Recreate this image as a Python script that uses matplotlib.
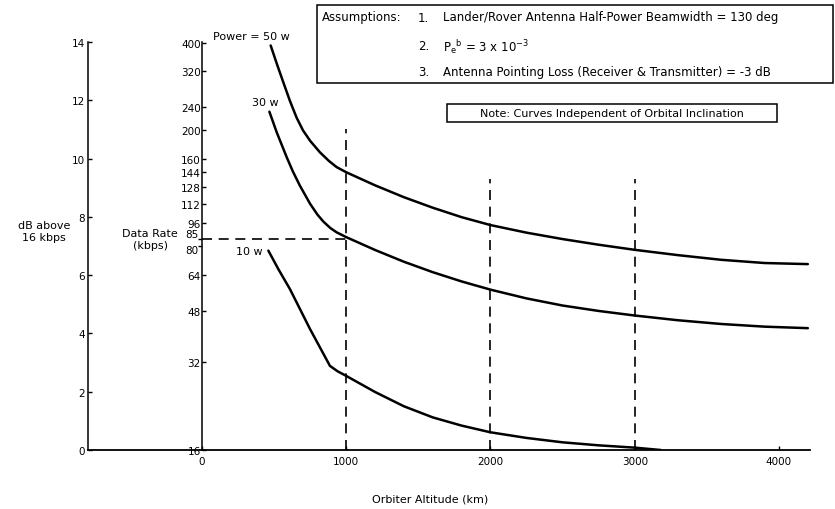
"""
Data rate vs orbiter altitude, lander/rover relay link
"""

import numpy as np
import matplotlib
matplotlib.use('Agg')
import matplotlib.pyplot as plt
from matplotlib.patches import Rectangle
from matplotlib.ticker import NullLocator

# curve data: altitude (km), data rate (kbps)
km_50w = [476, 520, 564, 610, 656, 700, 750, 818, 880, 934, 1000, 1200, 1400, 1600, 1800,
          2000, 2250, 2500, 2750, 3000, 3300, 3600, 3900, 4200]
rate_50w = [391, 337, 292, 252, 221, 200, 184, 168, 157, 149.5, 143.6, 129.5, 117.9, 108.5, 100.7,
            94.6, 89.1, 84.7, 81.0, 77.8, 74.6, 71.9, 70.1, 69.5]

km_30w = [467, 518, 587, 630, 679, 749, 800, 841, 890, 934, 1000, 1200, 1400, 1600, 1800,
          2000, 2250, 2500, 2750, 3000, 3300, 3600, 3900, 4200]
rate_30w = [231.8, 196.9, 161.8, 144.5, 129.1, 112.0, 102.8, 97.3, 92.4, 89.3, 86.0, 77.7, 70.8, 65.2, 60.6,
            56.8, 53.0, 50.1, 48.0, 46.3, 44.6, 43.3, 42.4, 41.9]

km_10w = [460, 530, 610, 749, 887, 940, 996, 1200, 1400, 1600, 1800, 2000, 2250, 2500, 2750, 3000, 3180]
rate_10w = [77.3, 66.7, 57.0, 41.6, 31.1, 29.8, 28.8, 25.3, 22.6, 20.7, 19.4, 18.4, 17.6, 17.0, 16.6, 16.3, 16.0]

db_ticks = [0, 2, 4, 6, 8, 10, 12, 14]
rate_ticks = [16, 32, 48, 64, 96, 112, 128, 144, 160, 200, 240, 320, 400]
km_ticks = [0, 1000, 2000, 3000, 4000]

# guide lines
guide_km = [1000, 2000, 3000]
guide_top = [202, 136, 136]
ref_km = 1000
ref_rate = 85
close_rates = [85, 80]   # crowded labels, nudged apart

W, H = 835, 510
def fx(px):
    return px / W
def fy(py):
    return 1 - py / H

plt.close('all')
fig = plt.figure(figsize=(8.35, 5.1), dpi=100)
fig.patch.set_facecolor('white')

fs = 7.5
# outer dB axis
ax1 = fig.add_axes([fx(88), fy(451), fx(810) - fx(88), fy(43) - fy(451)])
ax1.set_ylim(0, 14)
ax1.set_xlim(0, 1)
ax1.set_xticks([])
ax1.set_yticks(db_ticks)
ax1.tick_params(axis='y', direction='in', length=3, width=1, labelsize=fs, pad=2)
for s in ['top', 'right']:
    ax1.spines[s].set_visible(False)
ax1.spines['left'].set_linewidth(1.1)
ax1.spines['bottom'].set_linewidth(1.3)

# inner data rate axis (log, lined up with dB)
ax2 = fig.add_axes([fx(202), fy(451), fx(810) - fx(202), fy(43) - fy(451)])
ax2.patch.set_alpha(0)
ax2.set_yscale('log')
ax2.set_ylim(16, 16 * 10 ** 1.4)
ax2.set_xlim(0, 4215)
ax2.set_yticks(rate_ticks)
ax2.set_yticklabels([str(r) for r in rate_ticks])
ax2.yaxis.set_minor_locator(NullLocator())
ax2.set_xticks(km_ticks)
ax2.tick_params(axis='y', direction='in', length=3, width=1, labelsize=fs, pad=1)
ax2.tick_params(axis='x', direction='in', length=3, width=1, labelsize=fs, pad=4)
for s in ['top', 'right', 'bottom']:
    ax2.spines[s].set_visible(False)
ax2.spines['left'].set_linewidth(1.1)

# 85 and 80 sit very close on the log scale, so place them by hand
for r, dy in zip(close_rates, [3, -3]):
    ax2.plot([0], [r], marker=0, color='black', markersize=3, mew=1, clip_on=False)
    ax2.annotate(str(r), xy=(0, r), xycoords=('axes fraction', 'data'),
                 xytext=(-2.5, dy), textcoords='offset points',
                 ha='right', va='center', fontsize=fs)

ax2.plot(km_50w, rate_50w, color='black', lw=1.8, solid_capstyle='round', solid_joinstyle='round')
ax2.plot(km_30w, rate_30w, color='black', lw=1.8, solid_capstyle='round', solid_joinstyle='round')
ax2.plot(km_10w, rate_10w, color='black', lw=1.8, solid_capstyle='round', solid_joinstyle='round')

for k, t in zip(guide_km, guide_top):
    ax2.plot([k, k], [16, t], color='black', lw=1.2, dashes=(6, 4))
ax2.plot([0, ref_km], [ref_rate, ref_rate], color='black', lw=1.2, dashes=(6, 4))

# curve labels
fig.text(fx(213), fy(37), 'Power = 50 w', fontsize=8, va='center', ha='left')
fig.text(fx(265), fy(103), '30 w', fontsize=8, va='center', ha='center')
fig.text(fx(249), fy(252), '10 w', fontsize=8, va='center', ha='center')

# axis titles
fig.text(fx(44), fy(232), 'dB above\n16 kbps', fontsize=8, ha='center', va='center', linespacing=1.2)
fig.text(fx(150), fy(240), 'Data Rate\n(kbps)', fontsize=8, ha='center', va='center', linespacing=1.2)
fig.text(fx(430), fy(500), 'Orbiter Altitude (km)', fontsize=8, ha='center', va='center')

# assumptions box
fig.patches.append(Rectangle((fx(317), fy(84)), fx(833) - fx(317), fy(6) - fy(84),
                             transform=fig.transFigure, fill=False, lw=1.1, edgecolor='black'))
fs_box = 8.5
fig.text(fx(322), fy(18), 'Assumptions:', fontsize=fs_box, va='center')
fig.text(fx(418), fy(18), '1.', fontsize=fs_box, va='center')
fig.text(fx(443), fy(18), 'Lander/Rover Antenna Half-Power Beamwidth = 130 deg', fontsize=fs_box, va='center')
fig.text(fx(418), fy(47), '2.', fontsize=fs_box, va='center')
fig.text(fx(443), fy(47), r'$\mathregular{P_e{}^b}$ = 3 x 10$^{\mathregular{-3}}$', fontsize=fs_box, va='center')
fig.text(fx(418), fy(73), '3.', fontsize=fs_box, va='center')
fig.text(fx(443), fy(73), 'Antenna Pointing Loss (Receiver & Transmitter) = -3 dB', fontsize=fs_box, va='center')

# note box
fig.patches.append(Rectangle((fx(447), fy(123)), fx(777) - fx(447), fy(105) - fy(123),
                             transform=fig.transFigure, fill=False, lw=1.1, edgecolor='black'))
fig.text(fx(612), fy(114), 'Note: Curves Independent of Orbital Inclination', fontsize=8, ha='center', va='center')

fig.savefig('out.png', dpi=100)
